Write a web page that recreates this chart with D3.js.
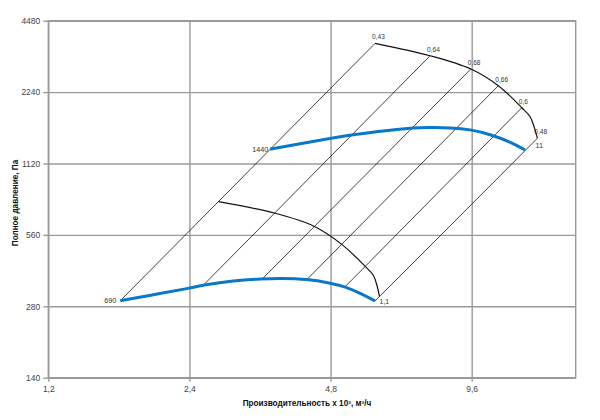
<!DOCTYPE html>
<html>
<head>
<meta charset="utf-8">
<script src="https://cdn.jsdelivr.net/npm/d3@7.9.0/dist/d3.min.js"></script>
<style>
  body { margin: 0; background: #fff; }
  svg { display: block; font-family: "Liberation Sans", Arial, sans-serif; }
  .grid line, .grid path { stroke: #9a9a9a; stroke-width: 1.4; }
  .tick text { fill: #444; font-size: 8.5px; }
</style>
</head>
<body>
<div id="chart"></div>
<script>
// axis ticks
const xTicks = [1.2, 2.4, 4.8, 9.6];
const yTicks = [140, 280, 560, 1120, 2240, 4480];

// 690 rpm curve: Q (x10^3 m3/h), P (Pa)
const curve690Q = [1.709, 2.080, 2.398, 2.572, 2.976, 3.436, 3.748, 4.285, 4.791, 5.157, 5.551, 5.974];
const curve690P = [295.6, 317.1, 333.5, 344.3, 359.0, 366.1, 367.9, 365.0, 351.1, 338.7, 318.6, 294.8];

// 1440 rpm curve
const curve1440Q = [3.568, 4.135, 4.791, 5.285, 6.755, 7.827, 8.634, 9.525, 10.508, 11.591, 12.478];
const curve1440P = [1286.8, 1355.0, 1430.0, 1475.0, 1572.0, 1591.8, 1585.6, 1561.2, 1487.2, 1383.9, 1276.8];

// efficiency rays: start on 690 curve, end on top arc
const rayStartQ = [1.709, 2.572, 3.436, 4.285, 5.157, 5.974];
const rayStartP = [295.6, 344.3, 366.1, 365.0, 338.7, 294.8];
const effLabels = ['0,43', '0,64', '0,68', '0,66', '0,6', '0,48'];
const effQ = [5.974, 7.827, 9.558, 10.944, 12.277, 13.253];
const effP = [3597, 3189, 2804, 2384, 1925, 1430];

// top arc (with two extra read points near the end)
const topArcQ = [5.974, 7.827, 9.558, 10.944, 12.277, 12.79, 13.06, 13.253];
const topArcP = [3597, 3189, 2804, 2384, 1925, 1764, 1586, 1430];

// middle arc
const midArcQ = [2.769, 3.657, 4.413, 5.064, 5.689, 5.916, 6.033, 6.102];
const midArcP = [773.0, 690.7, 610.6, 512.0, 412.8, 379.4, 341.0, 308.0];

const width = 600, height = 420;
const plot = { left: 48.3, right: 575.7, top: 20.7, bottom: 377.7 };

const svg = d3.select('#chart')
  .append('svg')
  .attr('width', width)
  .attr('height', height);

const x = d3.scaleLog().domain([1.2, 16]).range([plot.left, plot.right]);
const y = d3.scaleLog().domain([140, 4480]).range([plot.bottom, plot.top]);

// grid + axes
svg.append('g')
  .attr('class', 'grid')
  .attr('transform', `translate(${plot.left},0)`)
  .call(d3.axisLeft(y).tickValues(yTicks).tickFormat(d => d)
    .tickSizeInner(-(plot.right - plot.left)).tickSizeOuter(0).tickPadding(8))
  .call(g => g.select('.domain').remove());

svg.append('g')
  .attr('class', 'grid')
  .attr('transform', `translate(${plot.left},0)`)
  .call(d3.axisLeft(y).tickValues(yTicks).tickFormat('').tickSize(5))
  .call(g => g.select('.domain').remove());

svg.append('g')
  .attr('class', 'grid')
  .attr('transform', `translate(0,${plot.bottom})`)
  .call(d3.axisBottom(x).tickValues(xTicks).tickFormat(d => String(d).replace('.', ','))
    .tickSizeInner(-(plot.bottom - plot.top)).tickSizeOuter(0).tickPadding(8))
  .call(g => g.select('.domain').remove());

svg.append('g')
  .attr('class', 'grid')
  .attr('transform', `translate(0,${plot.bottom})`)
  .call(d3.axisBottom(x).tickValues(xTicks).tickFormat('').tickSize(4))
  .call(g => g.select('.domain').remove());

svg.append('rect')
  .attr('x', plot.left).attr('y', plot.top)
  .attr('width', plot.right - plot.left).attr('height', plot.bottom - plot.top)
  .attr('fill', 'none').attr('stroke', '#9a9a9a').attr('stroke-width', 1.4);

// rays
svg.append('g')
  .selectAll('line')
  .data(rayStartQ)
  .join('line')
    .attr('x1', (d, i) => x(d))
    .attr('y1', (d, i) => y(rayStartP[i]))
    .attr('x2', (d, i) => x(effQ[i]))
    .attr('y2', (d, i) => y(effP[i]))
    .attr('stroke', '#111')
    .attr('stroke-width', 0.8);

const arcLine = d3.line().x(d => x(d[0])).y(d => y(d[1])).curve(d3.curveCatmullRom);
const fanLine = d3.line().x(d => x(d[0])).y(d => y(d[1])).curve(d3.curveBasis);

svg.append('path')
  .datum(d3.zip(topArcQ, topArcP))
  .attr('d', arcLine)
  .attr('fill', 'none').attr('stroke', '#111').attr('stroke-width', 1.2);

svg.append('path')
  .datum(d3.zip(midArcQ, midArcP))
  .attr('d', arcLine)
  .attr('fill', 'none').attr('stroke', '#111').attr('stroke-width', 1.2);

// fan curves
[[curve690Q, curve690P], [curve1440Q, curve1440P]].forEach(([qs, ps]) => {
  svg.append('path')
    .datum(d3.zip(qs, ps))
    .attr('d', fanLine)
    .attr('fill', 'none')
    .attr('stroke', '#0a78c8')
    .attr('stroke-width', 3);
});

// efficiency labels
svg.append('g')
  .selectAll('text')
  .data(effLabels)
  .join('text')
    .attr('x', (d, i) => x(effQ[i]) - 3)
    .attr('y', (d, i) => y(effP[i]) - 4)
    .attr('font-size', 6.5)
    .attr('fill', '#333')
    .text(d => d);

const n = curve690Q.length - 1, m = curve1440Q.length - 1;
svg.append('text')
  .attr('x', x(curve690Q[0]) - 4).attr('y', y(curve690P[0]) + 2.5)
  .attr('text-anchor', 'end').attr('font-size', 7.2).attr('fill', '#333')
  .text('690');
svg.append('text')
  .attr('x', x(curve1440Q[0]) - 2).attr('y', y(curve1440P[0]) + 2.5)
  .attr('text-anchor', 'end').attr('font-size', 7.2).attr('fill', '#333')
  .text('1440');
svg.append('text')
  .attr('x', x(curve690Q[n]) + 4.5).attr('y', y(curve690P[n]) + 3.5)
  .attr('font-size', 6.8).attr('fill', '#333')
  .text('1,1');
svg.append('text')
  .attr('x', x(curve1440Q[m]) + 10.5).attr('y', y(curve1440P[m]) - 2.5)
  .attr('font-size', 7.2).attr('fill', '#333')
  .text('11');

// axis titles
svg.append('text')
  .attr('x', 307).attr('y', 406)
  .attr('text-anchor', 'middle')
  .attr('font-size', 8.2).attr('font-weight', 'bold').attr('fill', '#111')
  .text('Производительность x 10³, м³/ч');

svg.append('text')
  .attr('transform', 'translate(18,203) rotate(-90)')
  .attr('text-anchor', 'middle')
  .attr('font-size', 8.2).attr('font-weight', 'bold').attr('fill', '#111')
  .text('Полное давление, Па');
</script>
</body>
</html>
